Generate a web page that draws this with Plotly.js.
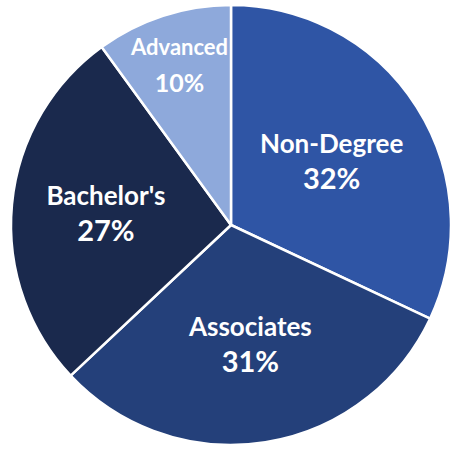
<!DOCTYPE html>
<html>
<head>
<meta charset="utf-8">
<script src="https://cdn.plot.ly/plotly-3.0.1.min.js"></script>
<style>html,body{margin:0;padding:0;background:#fff;}</style>
</head>
<body>
<div id="chart" style="width:451px;height:450px;"></div>
<script>
const categories = ["Non-Degree", "Associates", "Bachelor's", "Advanced"];
const shares = [32, 31, 27, 10];
const sliceColors = ["#2F55A5", "#24407A", "#1A294D", "#8EA9DB"];

const big = "<span style='font-size:26px'><b>%{label}</b></span><br><span style='font-size:29px'><b>%{percent:.0%}</b></span>";
const small = "<span style='font-size:22px'><b>%{label}</b></span><br><span style='font-size:25px'><b>%{percent:.0%}</b></span>";

const trace = {
  type: "pie",
  labels: categories,
  values: shares,
  sort: false,
  direction: "clockwise",
  rotation: 0,
  marker: { colors: sliceColors, line: { color: "#ffffff", width: 2.5 } },
  texttemplate: [big, big, big, small],
  textposition: "inside",
  insidetextorientation: "horizontal",
  textfont: { family: "Lato, 'Open Sans', sans-serif", size: 28, color: "#ffffff" },
  hoverinfo: "none",
  showlegend: false,
  domain: { x: [0.0244, 1.0], y: [0.0111, 0.9889] }
};

const layout = {
  width: 451,
  height: 450,
  margin: { l: 0, r: 0, t: 0, b: 0 },
  paper_bgcolor: "#ffffff",
  showlegend: false,
  uniformtext: { mode: "show", minsize: 28 }
};

Plotly.newPlot("chart", [trace], layout, { displayModeBar: false, staticPlot: true });
</script>
</body>
</html>
